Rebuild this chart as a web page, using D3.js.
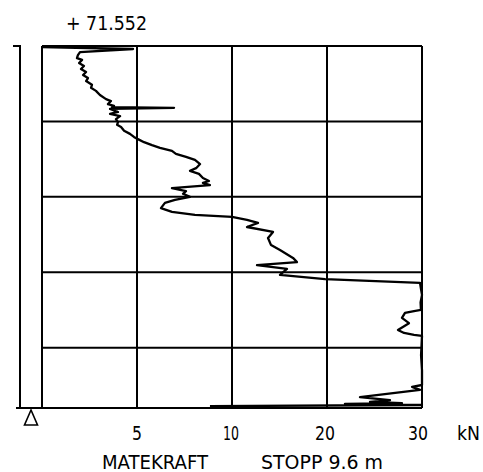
<!DOCTYPE html>
<html>
<head>
<meta charset="utf-8">
<script src="https://cdn.jsdelivr.net/npm/d3@7"></script>
<style>
  html, body { margin: 0; padding: 0; background: #fff; }
  text { font-family: "DejaVu Sans Condensed", "DejaVu Sans", sans-serif; fill: #000; }
</style>
</head>
<body>
<svg id="chart" width="483" height="472"></svg>
<script>
// Sondering: matekraft (kN) mot dybde (m)
const kote = "+ 71.552";
const stoppDybde = 9.6;

// kraftakse med ulik skala per rute
const kraftTicks = [0, 5, 10, 20, 30];
const kraftLabels = ["5", "10", "20", "30"];
const dybdeTicks = [0, 2, 4, 6, 8, 9.6];

// avlest kurve: dybde (m) og kraft (kN)
const dybde = [
  0.03, 0.08, 0.16, 0.24, 0.32, 0.37, 0.45, 0.53, 0.61, 0.69,
  0.77, 0.85, 0.93, 1.03, 1.11, 1.19, 1.30, 1.41, 1.46, 1.54,
  1.59, 1.62, 1.64, 1.67, 1.75, 1.80, 1.86, 1.94, 2.02, 2.09,
  2.15, 2.25, 2.33, 2.41, 2.47, 2.55, 2.63, 2.70, 2.78, 2.86,
  2.94, 3.02, 3.13, 3.24, 3.31, 3.39, 3.50, 3.58, 3.63, 3.69,
  3.77, 3.85, 3.92, 4.00, 4.08, 4.16, 4.30, 4.40, 4.48, 4.53,
  4.61, 4.69, 4.80, 4.93, 5.09, 5.28, 5.41, 5.62, 5.73, 5.81,
  5.91, 6.07, 6.18, 6.28, 6.45, 6.60, 6.80, 7.00, 7.03, 7.08,
  7.21, 7.35, 7.53, 7.61, 7.66, 7.69, 8.20, 8.60, 8.99, 9.04,
  9.12, 9.31, 9.39, 9.44, 9.47, 9.49, 9.52, 9.55
];
const kraft = [
  0.0, 4.79, 2.0, 1.89, 1.84, 2.11, 1.95, 2.21, 2.05, 2.32,
  2.16, 2.42, 2.32, 2.63, 2.58, 2.84, 3.05, 3.37, 3.63, 3.47,
  3.79, 3.68, 6.95, 3.58, 4.0, 3.58, 4.11, 3.89, 4.0, 3.95,
  4.16, 4.32, 4.63, 4.84, 5.05, 5.37, 5.79, 6.21, 6.84, 7.05,
  7.58, 8.05, 8.32, 8.11, 7.79, 8.26, 8.47, 8.79, 8.47, 8.84,
  6.84, 7.58, 7.42, 7.79, 7.0, 6.47, 6.26, 6.84, 8.05, 10.0,
  11.58, 12.74, 11.58, 14.32, 13.79, 14.11, 15.05, 16.42, 16.84, 12.63,
  15.79, 15.05, 19.79, 29.79, 29.9, 30.0, 29.85, 29.89, 29.16, 28.21,
  27.89, 28.63, 27.47, 28.11, 29.16, 30.0, 29.9, 30.0, 30.0, 28.95,
  29.79, 23.47, 26.63, 24.53, 27.89, 21.89, 30.0, 8.84
];

const svg = d3.select("#chart");

const x = d3.scaleLinear()
  .domain(kraftTicks)
  .range([42, 137, 232, 327, 422]);

const y = d3.scaleLinear()
  .domain([0, stoppDybde])
  .range([46, 408]);

const g = svg.append("g");

// rutenett
g.selectAll(".vline")
  .data(kraftTicks)
  .enter()
  .append("line")
  .attr("x1", d => x(d)).attr("x2", d => x(d))
  .attr("y1", y(0)).attr("y2", y(stoppDybde))
  .attr("stroke", "#000")
  .attr("stroke-width", 2);

g.selectAll(".hline")
  .data(dybdeTicks)
  .enter()
  .append("line")
  .attr("x1", x(0)).attr("x2", x(30))
  .attr("y1", d => y(d)).attr("y2", d => y(d))
  .attr("stroke", "#000")
  .attr("stroke-width", 2);

// venstre dybdestolpe
g.append("path")
  .attr("d", `M13,${y(0)} H20 V${y(stoppDybde)}`)
  .attr("fill", "none")
  .attr("stroke", "#000")
  .attr("stroke-width", 2);

g.append("line")
  .attr("x1", 16).attr("x2", x(0))
  .attr("y1", y(stoppDybde)).attr("y2", y(stoppDybde))
  .attr("stroke", "#000")
  .attr("stroke-width", 2);

// trekant
g.append("path")
  .attr("d", "M31,410 L24.5,425 L37.5,425 Z")
  .attr("fill", "none")
  .attr("stroke", "#000")
  .attr("stroke-width", 1.6);

// kurve
const linje = d3.line()
  .x(d => x(d[1]))
  .y(d => y(d[0]));

g.append("path")
  .datum(d3.zip(dybde, kraft))
  .attr("d", linje)
  .attr("fill", "none")
  .attr("stroke", "#000")
  .attr("stroke-width", 2.3)
  .attr("stroke-linejoin", "round");

// tekst
function tekst(s, tx, ty, bredde) {
  svg.append("text")
    .attr("x", tx).attr("y", ty)
    .attr("font-size", 19)
    .attr("textLength", bredde).attr("lengthAdjust", "spacingAndGlyphs")
    .text(s);
}

tekst(kote, 66, 30, 81);

const tickBredde = [10, 16, 20, 20];
const tickOffset = [0, -1, -2, -4];
kraftLabels.forEach((s, i) => {
  const b = tickBredde[i];
  tekst(s, x(kraftTicks[i + 1]) + tickOffset[i] - b / 2, 440, b);
});

tekst("kN", 457, 440, 23);
tekst("MATEKRAFT", 102, 469, 106);
tekst("STOPP " + stoppDybde + " m", 261, 469, 122);
</script>
</body>
</html>
